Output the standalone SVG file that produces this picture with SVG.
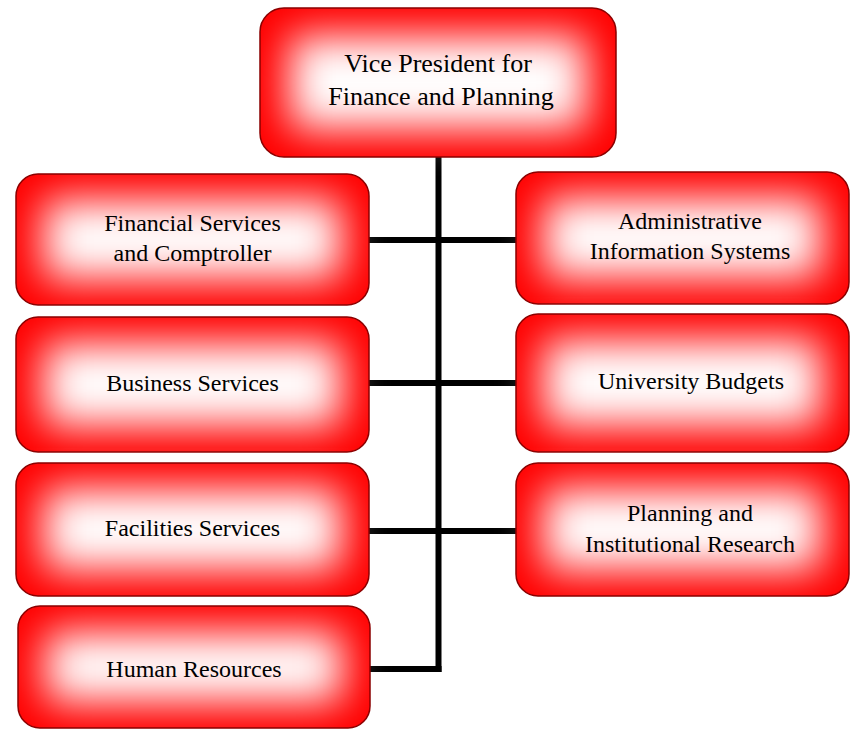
<svg xmlns="http://www.w3.org/2000/svg" width="850" height="729" viewBox="0 0 850 729">
<defs>
<filter id="soft" x="-50%" y="-50%" width="200%" height="200%">
<feGaussianBlur stdDeviation="21"/>
</filter>
</defs>
<style>
.box{fill:#ff0000;stroke:none}
.edge{fill:none;stroke:#8b0000;stroke-width:1.5}
.glow{fill:#ffffff;filter:url(#soft)}
.t{font-family:'Liberation Serif','DejaVu Serif','Times New Roman',serif;font-size:24px;fill:#000;text-anchor:middle}
.tt{font-size:26px}
.c{stroke:#000;stroke-width:6;fill:none}
</style>
<rect width="850" height="729" fill="#fff"/>
<g id="connectors">
<line class="c" x1="438.5" y1="157" x2="438.5" y2="672"/>
<line class="c" x1="369" y1="240" x2="516" y2="240"/>
<line class="c" x1="369" y1="383" x2="516" y2="383"/>
<line class="c" x1="369" y1="531" x2="516" y2="531"/>
<line class="c" x1="370" y1="669" x2="441.5" y2="669"/>
</g>
<g id="vp">
<rect class="box" x="260" y="8" width="356" height="149" rx="24"/>
<rect class="glow" x="290" y="36" width="296" height="93"/>
<rect class="edge" x="260" y="8" width="356" height="149" rx="24"/>
<text class="t tt" x="438" y="72">Vice President for</text>
<text class="t tt" x="441" y="105">Finance and Planning</text>
</g>
<g id="financial">
<rect class="box" x="16" y="174" width="353" height="131" rx="22"/>
<rect class="glow" x="44" y="200" width="297" height="79"/>
<rect class="edge" x="16" y="174" width="353" height="131" rx="22"/>
<text class="t" x="192.5" y="231">Financial Services</text>
<text class="t" x="192.5" y="261">and Comptroller</text>
</g>
<g id="business">
<rect class="box" x="16" y="317" width="353" height="135" rx="22"/>
<rect class="glow" x="44" y="343" width="297" height="83"/>
<rect class="edge" x="16" y="317" width="353" height="135" rx="22"/>
<text class="t" x="192.5" y="391">Business Services</text>
</g>
<g id="facilities">
<rect class="box" x="16" y="463" width="353" height="133" rx="22"/>
<rect class="glow" x="44" y="489" width="297" height="81"/>
<rect class="edge" x="16" y="463" width="353" height="133" rx="22"/>
<text class="t" x="192.5" y="536">Facilities Services</text>
</g>
<g id="hr">
<rect class="box" x="18" y="606" width="352" height="122" rx="22"/>
<rect class="glow" x="46" y="632" width="296" height="70"/>
<rect class="edge" x="18" y="606" width="352" height="122" rx="22"/>
<text class="t" x="194" y="677">Human Resources</text>
</g>
<g id="ais">
<rect class="box" x="516" y="172" width="333" height="132" rx="22"/>
<rect class="glow" x="544" y="198" width="277" height="80"/>
<rect class="edge" x="516" y="172" width="333" height="132" rx="22"/>
<text class="t" x="690" y="229">Administrative</text>
<text class="t" x="690" y="259">Information Systems</text>
</g>
<g id="budgets">
<rect class="box" x="516" y="314" width="333" height="138" rx="22"/>
<rect class="glow" x="544" y="340" width="277" height="86"/>
<rect class="edge" x="516" y="314" width="333" height="138" rx="22"/>
<text class="t" x="691" y="389">University Budgets</text>
</g>
<g id="planning">
<rect class="box" x="516" y="463" width="333" height="133" rx="22"/>
<rect class="glow" x="544" y="489" width="277" height="81"/>
<rect class="edge" x="516" y="463" width="333" height="133" rx="22"/>
<text class="t" x="690" y="521">Planning and</text>
<text class="t" x="690" y="552">Institutional Research</text>
</g>
</svg>
